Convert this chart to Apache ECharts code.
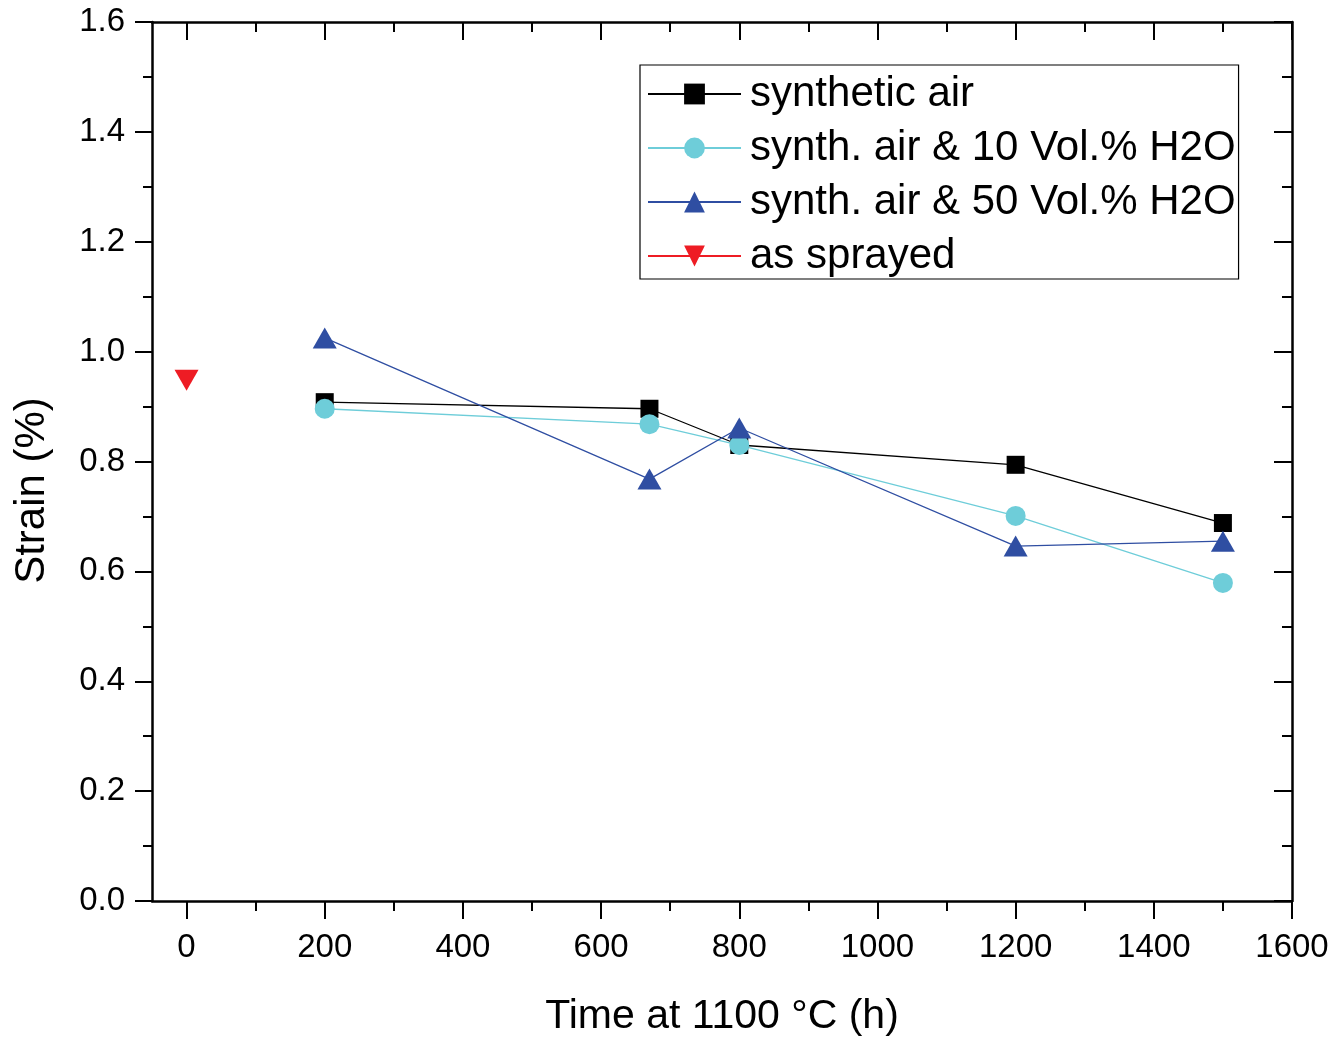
<!DOCTYPE html>
<html>
<head>
<meta charset="utf-8">
<script src="https://cdn.jsdelivr.net/npm/echarts@6/dist/echarts.min.js"></script>
<style>html,body{margin:0;padding:0;background:#fff}#c{width:1336px;height:1040px}</style>
</head>
<body>
<div id="c"></div>
<script>
var times = [200, 670, 800, 1200, 1500];
var synthAir = [0.908, 0.896, 0.830, 0.794, 0.688];
var air10 = [0.896, 0.868, 0.830, 0.701, 0.579];
var air50 = [1.025, 0.768, 0.861, 0.646, 0.655];
var sprayedTime = [0];
var sprayed = [0.948];
var xTicks = [0, 200, 400, 600, 800, 1000, 1200, 1400, 1600];
var seriesNames = ['synthetic air', 'synth. air & 10 Vol.% H2O', 'synth. air & 50 Vol.% H2O', 'as sprayed'];

function pairs(xs, ys) { return xs.map(function (x, i) { return [x, ys[i]]; }); }

var FONT = 'Liberation Sans, Arial, sans-serif';
var axisLine = { show: true, onZero: false, lineStyle: { color: '#000', width: 2.5 } };

var chart = echarts.init(document.getElementById('c'));
chart.setOption({
  animation: false,
  backgroundColor: '#fff',
  grid: { left: 152, right: 44, top: 22, bottom: 139, containLabel: false, outerBoundsMode: 'none' },
  legend: {
    orient: 'vertical', left: 640, top: 65,
    backgroundColor: '#fff',
    borderColor: '#000', borderWidth: 1.2,
    padding: [7, 3, 1, 7],
    itemWidth: 93, itemHeight: 26, itemGap: 10,
    textStyle: { fontFamily: FONT, fontSize: 42, color: '#000', lineHeight: 44, padding: [0, 0, 0, 4] },
    data: seriesNames
  },
  xAxis: [{
    type: 'value', min: -50, max: 1600, splitNumber: 8,
    name: 'Time at 1100 °C (h)', nameLocation: 'middle', nameGap: 95,
    nameTextStyle: { fontFamily: FONT, fontSize: 41, color: '#000' },
    axisLine: axisLine,
    axisTick: { show: true, inside: false, length: 18, customValues: xTicks, lineStyle: { color: '#000', width: 2 } },
    minorTick: { show: true, splitNumber: 2, length: 10, lineStyle: { color: '#000', width: 2 } },
    axisLabel: { margin: 30, fontFamily: FONT, fontSize: 33, color: '#000', customValues: xTicks,
      formatter: function (v) { return String(v); } },
    splitLine: { show: false }
  }, {
    type: 'value', position: 'top', min: -50, max: 1600, splitNumber: 8,
    axisLine: axisLine,
    axisTick: { show: true, inside: true, length: 18, customValues: xTicks, lineStyle: { color: '#000', width: 2 } },
    minorTick: { show: true, splitNumber: 2, length: 10, lineStyle: { color: '#000', width: 2 } },
    axisLabel: { show: false }, splitLine: { show: false }
  }],
  yAxis: [{
    type: 'value', min: 0, max: 1.6, interval: 0.2,
    name: 'Strain (%)', nameLocation: 'middle', nameGap: 99,
    nameTextStyle: { fontFamily: FONT, fontSize: 42, color: '#000', padding: [0, 58, 0, 0] },
    axisLine: axisLine,
    axisTick: { show: true, inside: false, length: 17, lineStyle: { color: '#000', width: 2 } },
    minorTick: { show: true, splitNumber: 2, length: 9, lineStyle: { color: '#000', width: 2 } },
    axisLabel: { margin: 27, fontFamily: FONT, fontSize: 33, color: '#000',
      formatter: function (v) { return v.toFixed(1); } },
    splitLine: { show: false }
  }, {
    type: 'value', position: 'right', min: 0, max: 1.6, interval: 0.2,
    axisLine: axisLine,
    axisTick: { show: true, inside: true, length: 18, lineStyle: { color: '#000', width: 2 } },
    minorTick: { show: true, splitNumber: 2, length: 10, lineStyle: { color: '#000', width: 2 } },
    axisLabel: { show: false }, splitLine: { show: false }
  }],
  series: [{
    name: seriesNames[0], type: 'line', data: pairs(times, synthAir),
    symbol: 'rect', symbolSize: 18, color: '#000',
    lineStyle: { color: '#000', width: 1.3 }, itemStyle: { color: '#000' }
  }, {
    name: seriesNames[1], type: 'line', data: pairs(times, air10),
    symbol: 'circle', symbolSize: 20, color: '#6ECDD9',
    lineStyle: { color: '#6ECDD9', width: 1.3 }, itemStyle: { color: '#6ECDD9' }
  }, {
    name: seriesNames[2], type: 'line', data: pairs(times, air50),
    symbol: 'triangle', symbolSize: [24, 21], color: '#2F4EA2',
    lineStyle: { color: '#2F4EA2', width: 1.3 }, itemStyle: { color: '#2F4EA2' }
  }, {
    name: seriesNames[3], type: 'line', data: pairs(sprayedTime, sprayed),
    symbol: 'triangle', symbolRotate: 180, symbolSize: [24, 21], color: '#EE1C24',
    lineStyle: { color: '#EE1C24', width: 1.3 }, itemStyle: { color: '#EE1C24' }
  }]
});
</script>
</body>
</html>
